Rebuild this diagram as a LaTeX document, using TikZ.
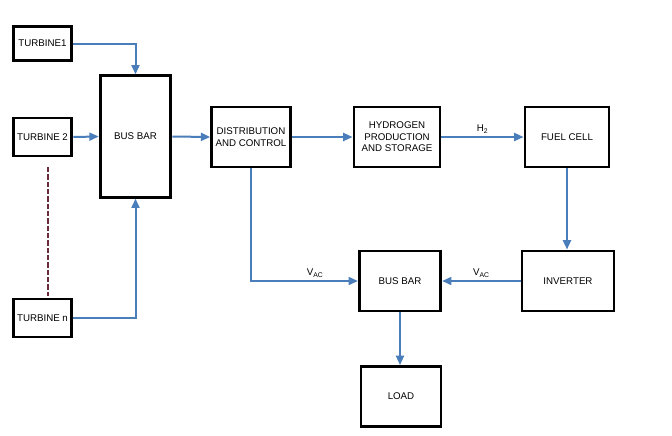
\documentclass[tikz,border=0pt]{standalone}
\usepackage{fontspec}
\setmainfont{Liberation Sans}
\usepackage{xcolor}
\usepackage{tikz}
\usetikzlibrary{arrows.meta}
\definecolor{linec}{HTML}{4A7EBB}
\definecolor{dashc}{HTML}{6B2A3A}
\tikzset{
  ar/.style={-{Triangle[length=7pt,width=6pt]},line width=1.5pt,linec},
  box/.style={draw=black,line width=2.2pt,fill=white,align=center,inner sep=2pt,
    font=\fontsize{7.3}{8.6}\selectfont},
  lbl/.style={text=black,font=\fontsize{7.3}{8.6}\selectfont,inner sep=2pt}
}

\begin{document}
\begin{tikzpicture}[x=0.75pt,y=-0.75pt]
\useasboundingbox (0,0) rectangle (672,436);
% sources
\node[box,minimum width=44pt,minimum height=25pt] (tb1) at (42.5,43.5) {TURBINE1};
\node[box,minimum width=44pt,minimum height=28.5pt] (tb2) at (42.5,137) {TURBINE 2};
\node[box,minimum width=44pt,minimum height=28.5pt] (tbn) at (42.5,318) {TURBINE n};
\node[box,minimum width=53pt,minimum height=91pt] (bus1) at (135.5,136.5) {BUS BAR};
% top row
\node[box,minimum width=59pt,minimum height=45pt] (dist) at (251,137) {DISTRIBUTION\\AND CONTROL};
\node[box,minimum width=64.5pt,minimum height=45pt] (hyd) at (397,137) {HYDROGEN\\PRODUCTION\\AND STORAGE};
\node[box,minimum width=63pt,minimum height=45pt] (fc) at (567,137) {FUEL CELL};
% bottom row
\node[box,minimum width=69pt,minimum height=45pt] (inv) at (568,281) {INVERTER};
\node[box,minimum width=61pt,minimum height=45pt] (bus2) at (400,281) {BUS BAR};
\node[box,minimum width=60pt,minimum height=45pt] (load) at (401,396.5) {LOAD};
% dots between turbines
\coordinate (dtop) at (48,167);
\coordinate (dbot) at (48,296);
\draw[dashc,line width=1pt,dash pattern=on 4pt off 1.5pt] (dtop) -- (dbot);
% connectors
\draw[ar] (tb1.east) -| (bus1.north);
\draw[ar] (tb2.east) -- (bus1.west);
\draw[ar] (tbn.east) -| (bus1.south);
\draw[ar] (bus1.east) -- (dist.west);
\draw[ar] (dist.east) -- (hyd.west);
\draw[ar] (hyd.east) -- node[lbl,above]{H\textsubscript{2}} (fc.west);
\draw[ar] (fc.south) -- (fc.south |- inv.north);
\draw[ar] (dist.south) |- node[lbl,above,pos=0.8]{V\textsubscript{AC}} (bus2.west);
\draw[ar] (inv.west) -- node[lbl,above]{V\textsubscript{AC}} (bus2.east);
\draw[ar] (bus2.south) -- (bus2.south |- load.north);
\end{tikzpicture}
\end{document}
